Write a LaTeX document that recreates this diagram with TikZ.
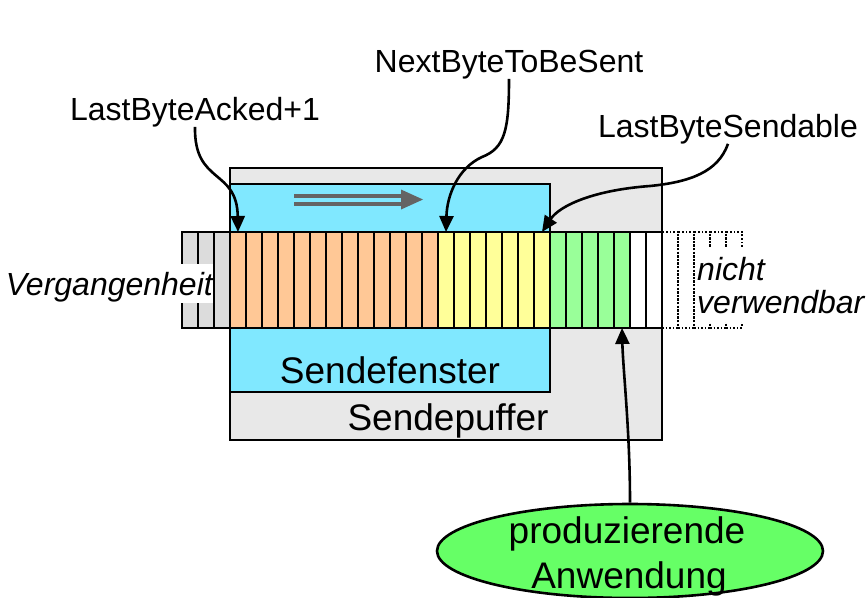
\documentclass[tikz,border=0pt]{standalone}
\usepackage{fontspec}
\setmainfont{Liberation Sans}
\usetikzlibrary{arrows.meta,shapes.geometric}
\definecolor{bufgray}{HTML}{E8E8E8}
\definecolor{wincyan}{HTML}{80E8FF}
\definecolor{pastgray}{HTML}{DCDCDC}
\definecolor{ackorange}{HTML}{FFC896}
\definecolor{sentyellow}{HTML}{FFFF99}
\definecolor{freegreen}{HTML}{99FF99}
\definecolor{appgreen}{HTML}{66FF66}
\definecolor{flowgray}{HTML}{646464}
\begin{document}
\begin{tikzpicture}[x=1pt,y=-1pt,
  lbl/.style={font=\fontsize{32}{35}\selectfont, inner sep=0pt},
  itlbl/.style={font=\fontsize{32}{35}\selectfont\itshape, inner sep=0pt},
  biglbl/.style={font=\fontsize{37}{44}\selectfont, inner sep=0pt},
  region/.style={draw=black, line width=2.6pt, inner sep=0pt, outer sep=0pt, anchor=north west},
  cell/.style={draw=black, line width=2.2pt, inner sep=0pt, outer sep=0pt, anchor=north west,
               minimum width=16pt, minimum height=96pt},
  unusable/.style={draw=black, line width=1.6pt, dash pattern=on 1.6pt off 2pt, inner sep=0pt,
               outer sep=0pt, anchor=north west, minimum width=16pt, minimum height=96pt},
  pointer/.style={line width=2.6pt, -{Triangle[width=14pt,length=16pt]}}]
\useasboundingbox (0,0) rectangle (867,597);

% send buffer and send window
\node[region, fill=bufgray, minimum width=432pt, minimum height=272pt] (puffer) at (230,168) {};
\node[region, fill=wincyan, minimum width=320pt, minimum height=208pt] (fenster) at (230,184) {};

% direction of the window movement
\coordinate (fa) at (294,195.5);
\coordinate (fb) at (405,195.5);
\coordinate (fc) at (294,203.5);
\coordinate (fd) at (405,203.5);
\draw[flowgray, line width=4pt] (fa) -- (fb) (fc) -- (fd);
\fill[flowgray] (401,189.5) -- (423,199.5) -- (401,209.5) -- cycle;

% byte cells: unusable ones first, dotted
\foreach \i in {30,...,34}
  \node[unusable] (c\i) at ({182+16*\i},232) {};
\foreach \i/\col in {0/pastgray,1/pastgray,2/pastgray,
    3/ackorange,4/ackorange,5/ackorange,6/ackorange,7/ackorange,8/ackorange,9/ackorange,
    10/ackorange,11/ackorange,12/ackorange,13/ackorange,14/ackorange,15/ackorange,
    16/sentyellow,17/sentyellow,18/sentyellow,19/sentyellow,20/sentyellow,21/sentyellow,22/sentyellow,
    23/freegreen,24/freegreen,25/freegreen,26/freegreen,27/freegreen,
    28/white,29/white}
  \node[cell, fill=\col] (c\i) at ({182+16*\i},232) {};

% side labels
\node[itlbl, fill=white, text height=31pt, text depth=8pt,
      anchor=base east] (past) at (213,295) {Vergangenheit};
\fill[white] (697,248) rectangle (867,322);
\node[itlbl, anchor=base west] (nicht) at (697,280) {nicht};
\node[itlbl, anchor=base west] (verw) at (697,313) {verwendbar};

% region names
\node[biglbl, anchor=base] (fname) at (390,383) {Sendefenster};
\node[biglbl, anchor=base] (pname) at (448,430) {Sendepuffer};

% pointer labels
\node[lbl, anchor=base] (acked) at (195,120) {LastByteAcked+1};
\node[lbl, anchor=base] (next) at (509,72) {NextByteToBeSent};
\node[lbl, anchor=base] (sendable) at (728,137) {LastByteSendable};

% application
\node[ellipse, draw=black, fill=appgreen, line width=2.6pt, inner sep=0pt,
      minimum width=386pt, minimum height=94pt] (app) at (630,551) {};
\node[biglbl, anchor=base] (prod) at (627,543) {produzierende};
\node[biglbl, anchor=base] (anw) at (629,588) {Anwendung};

% pointers into the byte stream
\draw[pointer] (acked.south) .. controls (194,185) and (237,168) .. (c3.north);
\draw[pointer] (next.south) .. controls (509,130) and (505,148) .. (482,157)
               .. controls (458,168) and (447,195) .. (c16.north);
\draw[pointer] (sendable.south) .. controls (718,172) and (690,182) .. (650,186)
               .. controls (595,190) and (560,205) .. (c22.north);
\draw[pointer] (app.north) .. controls (630,430) and (623,370) .. (c27.south);
\end{tikzpicture}
\end{document}
